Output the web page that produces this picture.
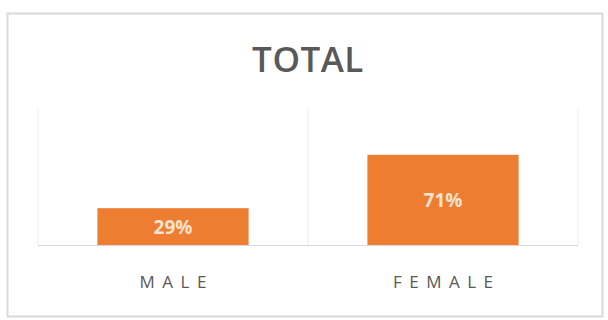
<!DOCTYPE html>
<html>
<head>
<meta charset="utf-8">
<script src="https://cdn.jsdelivr.net/npm/d3@7"></script>
<style>
  html, body { margin: 0; padding: 0; background: #fff; }
  svg { display: block; }
</style>
</head>
<body>
<div id="chart-area"></div>
<script>
let orange = "#ED7D31";
let textGray = "#595959";

const categories = ["MALE", "FEMALE"];
const shares = [0.29, 0.71];
const chartTitle = "TOTAL";

const width = 608;
const height = 320;

const margin = { top: 118, right: 30, bottom: 75, left: 38 };

const svg = d3
  .select("#chart-area")
  .append("svg")
  .attr("width", width)
  .attr("height", height);

// outer frame
svg
  .append("rect")
  .attr("x", 7.5)
  .attr("y", 13.5)
  .attr("width", 595)
  .attr("height", 303)
  .style("fill", "#fff")
  .style("stroke", "#D9D9D9")
  .style("stroke-width", 2);

svg
  .append("text")
  .attr("x", 308)
  .attr("y", 72)
  .style("text-anchor", "middle")
  .style("font-family", "'Open Sans', sans-serif")
  .style("font-weight", 600)
  .style("font-size", "35px")
  .style("letter-spacing", "0.5px")
  .style("fill", textGray)
  .text(chartTitle);

const x = d3
  .scaleBand()
  .domain(categories)
  .range([margin.left, width - margin.right])
  .paddingInner(0.44)
  .paddingOuter(0.22);

const y = d3
  .scaleLinear()
  .domain([0, 1])
  .range([height - margin.bottom, margin.top]);

// category dividers
const bounds = [margin.left, margin.left + (width - margin.left - margin.right) / 2, width - margin.right];
svg
  .selectAll(".divider")
  .data(bounds)
  .enter()
  .append("line")
  .attr("class", "divider")
  .attr("x1", (d) => d)
  .attr("x2", (d) => d)
  .attr("y1", margin.top - 10)
  .attr("y2", y(0))
  .style("stroke", "#EDEDED")
  .style("stroke-width", 1);

//bars
svg
  .selectAll(".bar")
  .data(shares)
  .enter()
  .append("rect")
  .attr("class", "bar")
  .attr("x", (d, i) => x(categories[i]))
  .attr("y", (d) => y(d))
  .attr("width", x.bandwidth())
  .attr("height", (d) => y(0) - y(d))
  .style("fill", orange);

// baseline
svg
  .append("line")
  .attr("x1", margin.left)
  .attr("x2", width - margin.right)
  .attr("y1", y(0) + 0.5)
  .attr("y2", y(0) + 0.5)
  .style("stroke", "#D9D9D9")
  .style("stroke-width", 1);

// value labels
svg
  .selectAll(".value-label")
  .data(shares)
  .enter()
  .append("text")
  .attr("class", "value-label")
  .attr("x", (d, i) => x(categories[i]) + x.bandwidth() / 2)
  .attr("y", (d) => (y(d) + y(0)) / 2 + 7)
  .style("text-anchor", "middle")
  .style("font-family", "'Open Sans', sans-serif")
  .style("font-weight", 700)
  .style("font-size", "19px")
  .style("fill", "#FBE3D0")
  .text((d) => d3.format(".0%")(d));

// category labels
const labelSpacing = 7.5;
svg
  .selectAll(".cat-label")
  .data(categories)
  .enter()
  .append("text")
  .attr("class", "cat-label")
  .attr("x", (d) => x(d) + x.bandwidth() / 2 + labelSpacing / 2)
  .attr("y", 288)
  .style("text-anchor", "middle")
  .style("font-family", "'Open Sans', sans-serif")
  .style("font-size", "17px")
  .style("letter-spacing", labelSpacing + "px")
  .style("fill", textGray)
  .text((d) => d);
</script>
</body>
</html>
